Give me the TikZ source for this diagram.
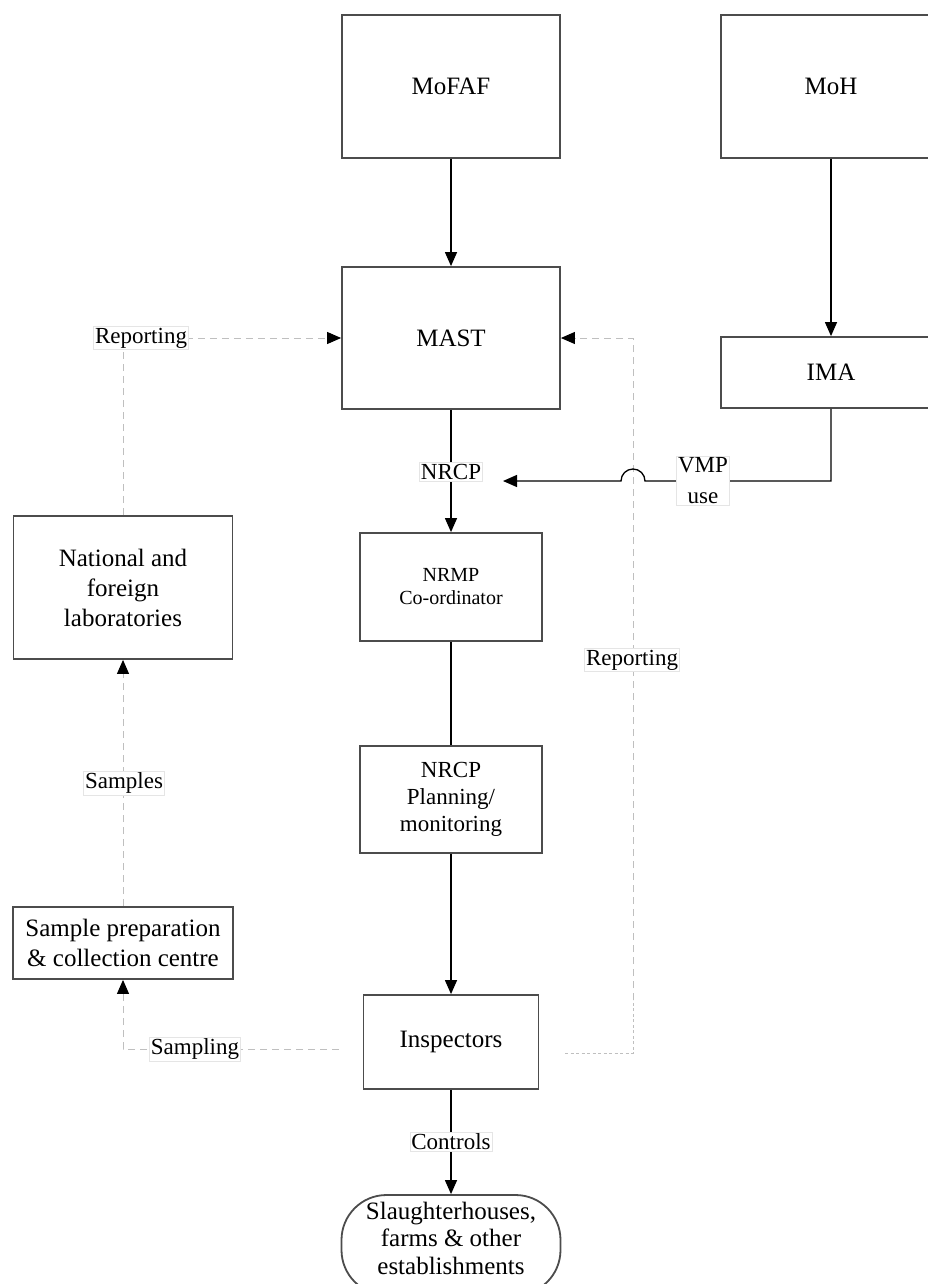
\documentclass[tikz,border=0pt]{standalone}
\usepackage{fontspec}
\setmainfont{Liberation Serif}
\usetikzlibrary{arrows.meta}
\begin{document}
\begin{tikzpicture}[x=1pt,y=-1pt,
  box/.style={draw=black!70,line width=1.8pt,fill=white,align=center,inner sep=0pt,
    font=\fontsize{25}{30}\selectfont},
  lbl/.style={fill=white,draw=black!10,line width=0.6pt,align=center,inner xsep=1.5pt,inner ysep=1.5pt,
    font=\fontsize{23}{31}\selectfont},
  conn/.style={draw=black,line width=1.3pt},
  tip/.style={-{Triangle[length=14pt,width=12pt,color=black]}},
  dline/.style={draw=black!25,line width=1pt,dash pattern=on 7pt off 5pt},
  dotl/.style={draw=black!25,line width=1pt,dash pattern=on 3pt off 2.5pt}]
\useasboundingbox (0,0) rectangle (928,1284);
\clip (0,0) rectangle (928,1284);
% boxes
\node[box,minimum width=218pt,minimum height=143pt] (mofaf) at (451,86.5) {MoFAF};
\node[box,minimum width=220pt,minimum height=143pt] (moh) at (831,86.5) {MoH};
\node[box,minimum width=218pt,minimum height=142pt] (mast) at (451,338) {MAST};
\node[box,minimum width=220pt,minimum height=71pt] (ima) at (831,372.5) {IMA};
\node[box,minimum width=182pt,minimum height=108pt,font=\fontsize{20}{23}\selectfont] (nrmp) at (451,587) {NRMP\\Co-ordinator};
\node[box,minimum width=182pt,minimum height=107pt,font=\fontsize{23}{27}\selectfont] (plan) at (451,799.5) {NRCP\\Planning/\\monitoring};
\node[box,minimum width=175pt,minimum height=94pt] (insp) at (451,1042) {Inspectors};
\node[box,minimum width=219pt,minimum height=143pt] (labs) at (123,587.5) {National and\\foreign\\laboratories};
\node[box,minimum width=220pt,minimum height=72pt] (samp) at (123,943) {Sample preparation\\\& collection centre};
\node[box,rounded corners=45pt,minimum width=219pt,minimum height=100pt] (slau) at (451,1245) {};
\node[align=center,inner sep=0pt,font=\fontsize{25}{27.5}\selectfont] (slaut) at (451,1238) {Slaughterhouses,\\farms \& other\\establishments};
% coordinates
\coordinate (vmpend) at (503,481);
\coordinate (rstart) at (565,1053);
\coordinate (rcorner) at (633,338);
\coordinate (rmid) at (633,1000);
\coordinate (sstart) at (339,1049);
% connectors
\draw[conn,tip] (mofaf.south) -- (mast.north);
\draw[conn,tip] (moh.south) -- (ima.north);
\draw[conn,tip] (mast.south) -- (nrmp.north);
\draw[conn] (nrmp.south) -- (plan.north);
\draw[conn,tip] (plan.south) -- (insp.north);
\draw[conn,tip] (insp.south) -- (slau.north);
% dashed reporting / samples
\draw[dline,tip] (labs.north) |- (mast.west);
\draw[dline,tip] (samp.north) -- (labs.south);
\draw[dline,tip] (sstart) -| (samp.south);
\draw[dotl] (rstart) -| (rmid);
\draw[dline,tip] (rmid) -- (rcorner) -- (mast.east);
% VMP line with jump
\draw[conn,tip] (ima.south) |- (645,481) arc[start angle=0,end angle=180,radius=12pt] -- (vmpend);
% labels
\node[lbl] (l1) at (141,338) {Reporting};
\node[lbl] (l2) at (451,472) {NRCP};
\node[lbl] (l3) at (703,481) {VMP\\use};
\node[lbl] (l4) at (632,660) {Reporting};
\node[lbl] (l5) at (124,783) {Samples};
\node[lbl] (l6) at (195,1049) {Sampling};
\node[lbl] (l7) at (451,1142) {Controls};
\end{tikzpicture}
\end{document}
